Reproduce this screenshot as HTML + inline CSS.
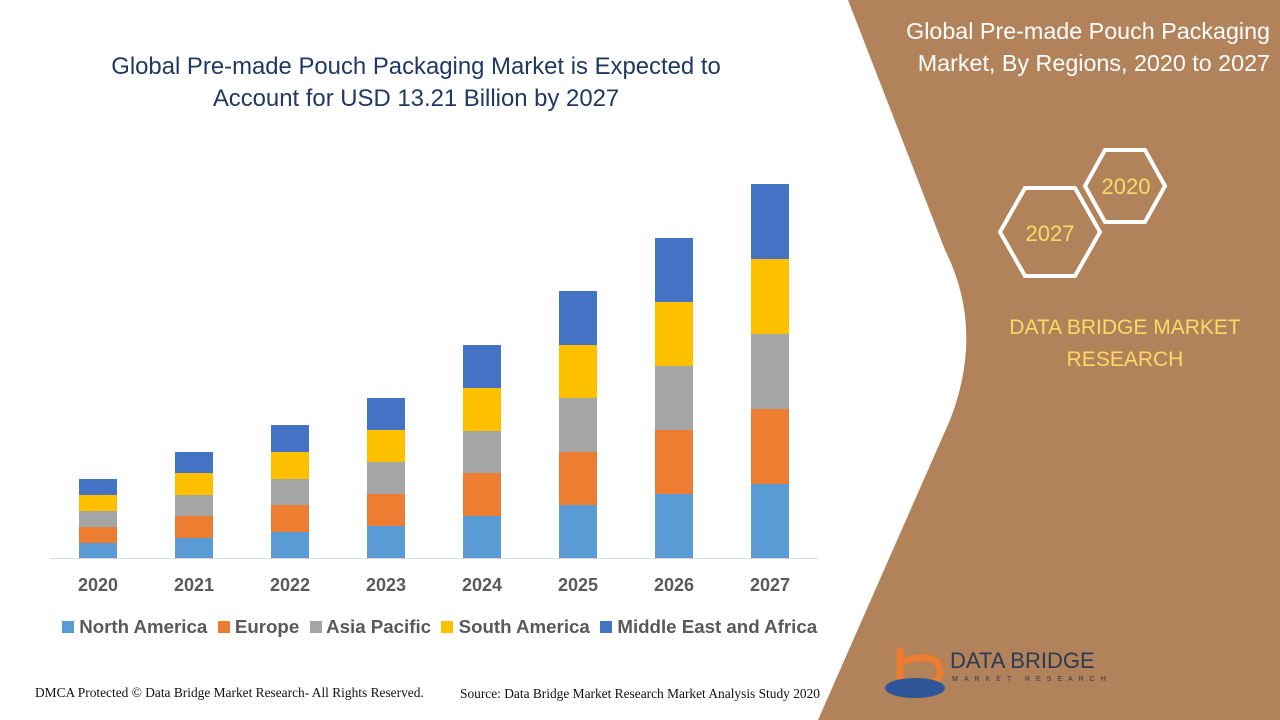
<!DOCTYPE html>
<html><head><meta charset="utf-8"><style>
body{margin:0;width:1280px;height:720px;overflow:hidden;background:#fff;font-family:"Liberation Sans",sans-serif;position:relative}
.a{position:absolute;white-space:nowrap}
</style></head><body>
<svg width="1280" height="720" style="position:absolute;left:0;top:0">
<path d="M848,0 L1280,0 L1280,720 L818,720 L950,420 Q985,330 945,250 Z" fill="#B2825A"/>
<line x1="50" y1="558.5" x2="818" y2="558.5" stroke="#d9d9d9" stroke-width="1"/>
<g id="bars"></g>
<polygon points="1000,232 1025,188 1075,188 1100,232 1075,276 1025,276" fill="none" stroke="#fff" stroke-width="4" stroke-linejoin="round"/>
<polygon points="1085,186 1105,150 1145,150 1165,186 1145,222 1105,222" fill="none" stroke="#fff" stroke-width="4" stroke-linejoin="round"/>
<text x="1050" y="241" font-size="22" fill="#FFD966" text-anchor="middle" font-family="Liberation Sans">2027</text>
<text x="1126" y="194" font-size="22" fill="#FFD966" text-anchor="middle" font-family="Liberation Sans">2020</text>
<path d="M900,648 L900,690 M900,662 Q940,650 940,672 Q938,690 905,690" stroke="#ED7D31" stroke-width="7" fill="none"/>
<ellipse cx="915" cy="688" rx="30" ry="10" fill="#2E5597"/>
</svg>
<script>
var cx=[98,194,290,386,482,578,674,770],
tops=[[543,527,511,495,479],[538,516,495,473,452],[532,505,479,452,425],[526,494,462,430,398],[516,473,431,388,345],[505,452,398,345,291],[494,430,366,302,238],[484,409,334,259,184]],
col=["#5B9BD5","#ED7D31","#A5A5A5","#FFC000","#4472C4"],s="";
for(var i=0;i<8;i++){var b=558;for(var j=0;j<5;j++){var t=tops[i][j];s+='<rect x="'+(cx[i]-19)+'" y="'+t+'" width="38" height="'+(b-t)+'" fill="'+col[j]+'"/>';b=t;}}
document.getElementById('bars').innerHTML=s;
</script>
<div class="a" style="left:16px;top:51px;width:800px;text-align:center;color:#1F3864;font-size:23.9px;line-height:32px">Global Pre-made Pouch Packaging Market is Expected to<br>Account for USD 13.21 Billion by 2027</div>
<div class="a" style="left:800px;top:15px;width:470px;text-align:right;color:#fff;font-size:23.3px;line-height:32px">Global Pre-made Pouch Packaging<br>Market, By Regions, 2020 to 2027</div>
<div class="a" style="left:980px;top:312px;width:290px;text-align:center;color:#FFD966;font-size:21px;line-height:32px;white-space:normal">DATA BRIDGE MARKET RESEARCH</div>
<div class="a" style="left:950px;top:648px;color:#2b3a55;font-size:22px">DATA BRIDGE</div>
<div class="a" style="left:952px;top:676px;color:#2b3a55;font-size:7px;letter-spacing:6px">MARKET RESEARCH</div>
<div id="yl"></div>
<script>
var h="";for(var i=0;i<8;i++){h+='<div class="a" style="left:'+(cx[i]-30)+'px;top:575px;width:60px;text-align:center;font-weight:bold;font-size:18px;color:#595959">'+(2020+i)+'</div>';}
document.getElementById('yl').innerHTML=h;
</script>
<div class="a" style="left:62px;top:616px;font-size:18.7px;font-weight:bold;color:#595959">
<span style="display:inline-block;width:12px;height:12px;background:#5B9BD5"></span> North America&nbsp;
<span style="display:inline-block;width:12px;height:12px;background:#ED7D31"></span> Europe&nbsp;
<span style="display:inline-block;width:12px;height:12px;background:#A5A5A5"></span> Asia Pacific&nbsp;
<span style="display:inline-block;width:12px;height:12px;background:#FFC000"></span> South America&nbsp;
<span style="display:inline-block;width:12px;height:12px;background:#4472C4"></span> Middle East and Africa</div>
<div class="a" style="left:35px;top:685px;font-family:'Liberation Serif',serif;font-size:13.4px;color:#111">DMCA Protected © Data Bridge Market Research- All Rights Reserved.</div>
<div class="a" style="left:460px;top:686px;font-family:'Liberation Serif',serif;font-size:13.4px;color:#111">Source: Data Bridge Market Research Market Analysis Study 2020</div>
</body></html>
